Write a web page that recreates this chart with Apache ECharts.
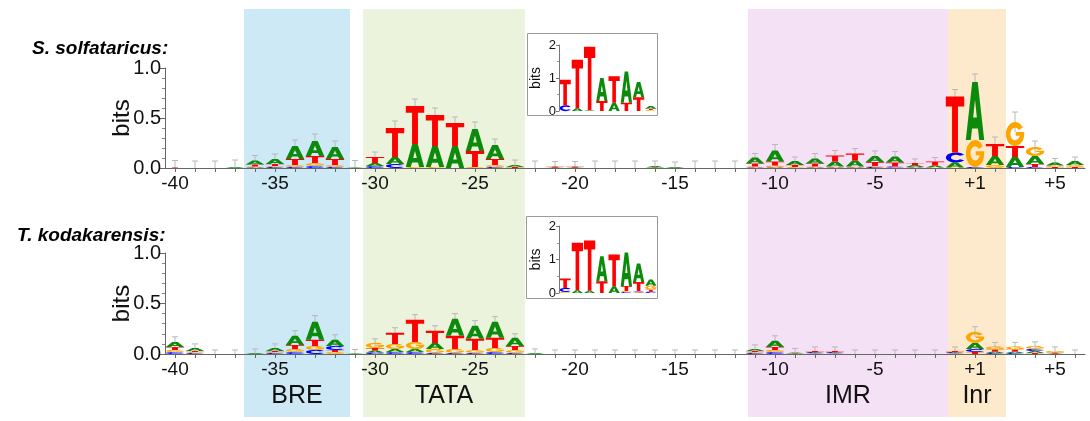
<!DOCTYPE html>
<html>
<head>
<meta charset="utf-8">
<script src="https://cdn.jsdelivr.net/npm/echarts@6/dist/echarts.min.js"></script>
<style>
  html, body { margin: 0; padding: 0; background: #fff; }
  #main { width: 1090px; height: 421px; }
</style>
</head>
<body>
<div id="main"></div>
<script>
// positions relative to the transcription start site (there is no 0)
var positions = ['-40','-39','-38','-37','-36','-35','-34','-33','-32','-31',
  '-30','-29','-28','-27','-26','-25','-24','-23','-22','-21',
  '-20','-19','-18','-17','-16','-15','-14','-13','-12','-11',
  '-10','-9','-8','-7','-6','-5','-4','-3','-2','-1',
  '+1','+2','+3','+4','+5','+6'];
var labeledTicks = ['-40','-35','-30','-25','-20','-15','-10','-5','+1','+5'];

// S. solfataricus, bits per nucleotide
var solA = [0,0,0,0.01,0.04,0.05,0.13,0.15,0.12,0.005,
  0.03,0.07,0.23,0.21,0.22,0.22,0.14,0.02,0,0.005,
  0.005,0,0,0,0.015,0.01,0,0,0,0.06,
  0.11,0.04,0.05,0.05,0.06,0.06,0.06,0.02,0.02,0.05,
  0.58,0.09,0.1,0.08,0.03,0.04];
var solC = [0,0,0,0,0.005,0.01,0.01,0.02,0.01,0,
  0.02,0.04,0,0,0,0,0.01,0,0,0,
  0,0,0,0,0,0,0,0,0,0.005,
  0.005,0,0.005,0.005,0.005,0.01,0.01,0.005,0,0.1,
  0.01,0,0.01,0.01,0,0];
var solG = [0,0,0,0,0.01,0.01,0.02,0.03,0.02,0,
  0,0,0.01,0.01,0,0.01,0.02,0,0,0,
  0,0,0,0,0,0,0,0,0,0.01,
  0.02,0.01,0.01,0.01,0.01,0.01,0.005,0.005,0.005,0.005,
  0.27,0.03,0.24,0.09,0.015,0.02];
var solT = [0.005,0,0,0,0.02,0.02,0.06,0.07,0.06,0,
  0.06,0.29,0.38,0.31,0.23,0.16,0.06,0.01,0,0.01,
  0.01,0,0,0,0.005,0,0,0,0,0.03,
  0.04,0.02,0.03,0.06,0.07,0.04,0.04,0.02,0.04,0.56,
  0,0.12,0.11,0.03,0.01,0.01];
var solErr = [0.07,0.07,0.07,0.07,0.05,0.05,0.06,0.07,0.06,0.07,
  0.05,0.07,0.07,0.07,0.06,0.07,0.06,0.05,0.07,0.05,
  0.05,0.07,0.07,0.07,0.05,0.05,0.07,0.07,0.07,0.04,
  0.06,0.04,0.05,0.05,0.05,0.05,0.05,0.04,0.04,0.07,
  0.08,0.07,0.1,0.06,0.04,0.04];

// T. kodakarensis, bits per nucleotide
var kodA = [0.05,0.03,0,0,0.01,0.03,0.09,0.18,0.06,0.005,
  0.02,0.03,0.03,0.06,0.17,0.13,0.16,0.08,0.01,0,
  0,0,0,0,0,0,0,0,0,0.02,
  0.06,0.01,0.005,0.005,0,0,0,0,0,0.005,
  0.06,0.015,0.015,0.02,0.005,0];
var kodC = [0.02,0.01,0,0,0,0.01,0.02,0.04,0.04,0,
  0.015,0.02,0.02,0.01,0.01,0.01,0.02,0.01,0,0,
  0,0,0,0,0,0,0,0,0,0.01,
  0.02,0,0.01,0.01,0,0,0,0,0,0.01,
  0.03,0.01,0.01,0.02,0,0];
var kodG = [0.02,0.01,0,0,0,0.01,0.03,0.04,0.02,0,
  0.05,0.05,0.07,0.04,0.04,0.03,0.04,0.03,0,0,
  0,0,0,0,0,0,0,0,0,0.01,
  0.02,0,0.005,0.005,0,0,0,0,0,0.005,
  0.11,0.03,0.03,0.03,0.015,0];
var kodT = [0.03,0.01,0,0,0,0.01,0.04,0.06,0.02,0,
  0.025,0.11,0.22,0.12,0.13,0.11,0.1,0.04,0,0,
  0,0,0,0,0,0,0,0,0,0.01,
  0.03,0.005,0.01,0.01,0,0,0,0,0,0.01,
  0.02,0.02,0.02,0.01,0.01,0];
var kodErr = [0.05,0.04,0.04,0.04,0.04,0.04,0.05,0.06,0.05,0.04,
  0.04,0.05,0.05,0.05,0.05,0.05,0.05,0.04,0.04,0.04,
  0.04,0.04,0.04,0.04,0.04,0.04,0.04,0.04,0.04,0.04,
  0.05,0.04,0.04,0.04,0.04,0.04,0.04,0.04,0.04,0.04,
  0.05,0.04,0.04,0.04,0.04,0.04];

// insets: 8-position TATA-box logos, 0-2 bits
var insetPositions = ['1','2','3','4','5','6','7','8'];
var insetSolA = [0,0.08,0.02,0.7,0.25,0.95,0.46,0.08];
var insetSolC = [0.17,0,0,0,0,0,0,0];
var insetSolG = [0,0,0,0,0,0,0,0.03];
var insetSolT = [0.78,1.47,1.93,0.3,0.8,0.25,0.42,0.04];
var insetKodA = [0,0.08,0.07,0.75,0.2,1.0,0.55,0.18];
var insetKodC = [0.12,0,0,0,0,0.03,0.03,0.04];
var insetKodG = [0.03,0,0,0,0,0.03,0.02,0.12];
var insetKodT = [0.28,1.42,1.5,0.35,0.95,0.15,0.28,0.06];

// promoter elements: [start, end, name] in position-band units
var bands = [[3.95, 9.25, 'BRE'], [9.9, 18.0, 'TATA'], [29.15, 39.15, 'IMR'], [39.15, 42.05, 'Inr']];
var bandColors = ['#cde9f6', '#ebf3dc', '#f4e1f5', '#fde9cc'];

var letterColors = ['#0b8a0b', '#0000ff', '#ffa500', '#ff0000'];
var glyphs = [
  'M0,100 L35,0 L65,0 L100,100 L73,100 L66,80 L34,80 L27,100 Z M40,61 L60,61 L50,30 Z',
  'M92,23 A50,50 0 1 0 92,77 L71,67 A26,26 0 1 1 71,33 Z',
  'M92,23 A50,50 0 1 0 100,50 L100,42 L54,42 L54,57 L76,57 A26,26 0 1 1 71,33 Z',
  'M0,0 L100,0 L100,18 L66,18 L66,100 L34,100 L34,18 L0,18 Z'
];
var FONT = "'Liberation Sans', Arial, sans-serif";

function stackItems(A, C, G, T) {
  var out = [];
  for (var i = 0; i < A.length; i++) {
    var ls = [[0, A[i]], [1, C[i]], [2, G[i]], [3, T[i]]]
      .filter(function (d) { return d[1] > 0; })
      .sort(function (a, b) { return a[1] - b[1]; });
    var y = 0;
    ls.forEach(function (d) { out.push([i, y, y + d[1], d[0]]); y += d[1]; });
  }
  return out;
}
function errItems(A, C, G, T, E) {
  return A.map(function (a, i) { return [i, a + C[i] + G[i] + T[i], E[i]]; });
}

function renderLetter(params, api) {
  var i = api.value(0), k = api.value(3);
  var p0 = api.coord([i, api.value(1)]);
  var p1 = api.coord([i, api.value(2)]);
  var w = api.size([1, 0])[0] * 0.92;
  var h = p0[1] - p1[1];
  if (h < 0.4) return;
  return {
    type: 'path',
    shape: { pathData: glyphs[k], x: p0[0] - w / 2, y: p1[1], width: w, height: h, layout: 'cover' },
    style: { fill: letterColors[k] }
  };
}
function renderErr(params, api) {
  var i = api.value(0), top = api.value(1), e = api.value(2);
  var hi = api.coord([i, top + e]);
  var lo = api.coord([i, Math.max(0, top - e)]);
  var st = { stroke: '#b8b8b8', lineWidth: 1 };
  return {
    type: 'group',
    children: [
      { type: 'line', shape: { x1: hi[0], y1: hi[1], x2: lo[0], y2: lo[1] }, style: st },
      { type: 'line', shape: { x1: hi[0] - 3, y1: hi[1], x2: hi[0] + 3, y2: hi[1] }, style: st }
    ]
  };
}
function renderBand(params, api) {
  var a = api.coord([api.value(0), 1]);
  var b = api.coord([api.value(1), 0]);
  return {
    type: 'group',
    children: [
      { type: 'rect', shape: { x: a[0], y: a[1], width: b[0] - a[0], height: b[1] - a[1] },
        style: { fill: bandColors[params.dataIndex] } },
      { type: 'text', x: (a[0] + b[0]) / 2, y: b[1] - 8,
        style: { text: bands[params.dataIndex][2], fill: '#111', font: '25px ' + FONT,
                 align: 'center', verticalAlign: 'bottom' } }
    ]
  };
}

function mainX(gi) {
  return {
    gridIndex: gi, type: 'category', data: positions, boundaryGap: true, z: 3,
    axisLine: { lineStyle: { color: '#666' } },
    axisTick: { show: true, interval: 0, alignWithLabel: true, length: 4, lineStyle: { color: '#666' } },
    axisLabel: {
      interval: function (idx, v) { return labeledTicks.indexOf(v) >= 0; },
      fontSize: 19, fontFamily: FONT, color: '#111', margin: 6
    }
  };
}
function mainY(gi) {
  return {
    gridIndex: gi, type: 'value', min: 0, max: 1, interval: 0.5, z: 3,
    name: 'bits', nameLocation: 'middle', nameRotate: 90, nameGap: 31, nameMoveOverlap: false,
    nameTextStyle: { fontSize: 24, fontFamily: FONT, color: '#111' },
    axisLine: { show: true, lineStyle: { color: '#666' } },
    axisTick: { show: true, length: 5, lineStyle: { color: '#666' } },
    minorTick: { show: true, splitNumber: 5, length: 3, lineStyle: { color: '#888' } },
    splitLine: { show: false },
    axisLabel: { fontSize: 20, fontFamily: FONT, color: '#111', margin: 4,
                 formatter: function (v) { return v.toFixed(1); } }
  };
}
function insetX(gi) {
  return { gridIndex: gi, type: 'category', data: insetPositions, show: false };
}
function insetY(gi) {
  return {
    gridIndex: gi, type: 'value', min: 0, max: 2, interval: 1, z: 3,
    name: 'bits', nameLocation: 'middle', nameRotate: 90, nameGap: 16,
    nameTextStyle: { fontSize: 14, fontFamily: FONT, color: '#111' },
    axisLine: { show: true, lineStyle: { color: '#777' } },
    axisTick: { show: true, length: 3, lineStyle: { color: '#777' } },
    minorTick: { show: true, splitNumber: 2, length: 2, lineStyle: { color: '#999' } },
    splitLine: { show: false },
    axisLabel: { fontSize: 13, fontFamily: FONT, color: '#111', margin: 3 }
  };
}

var myChart = echarts.init(document.getElementById('main'), null, { renderer: 'canvas' });
var option = {
  animation: false,
  title: [
    { text: 'S. solfataricus:', left: 27, top: 34,
      textStyle: { fontSize: 19, fontStyle: 'italic', fontWeight: 'bold', fontFamily: FONT, color: '#000' } },
    { text: 'T. kodakarensis:', left: 12, top: 221,
      textStyle: { fontSize: 19, fontStyle: 'italic', fontWeight: 'bold', fontFamily: FONT, color: '#000' } }
  ],
  grid: [
    { left: 165, width: 920, top: 9, height: 408 },
    { left: 165, width: 920, top: 68, height: 100 },
    { left: 165, width: 920, top: 253, height: 101 },
    { left: 559, width: 98, top: 45, height: 66 },
    { left: 559, width: 98, top: 226, height: 67 }
  ],
  xAxis: [
    { gridIndex: 0, type: 'value', min: 0, max: 46, show: false },
    mainX(1), mainX(2), insetX(3), insetX(4)
  ],
  yAxis: [
    { gridIndex: 0, type: 'value', min: 0, max: 1, show: false },
    mainY(1), mainY(2), insetY(3), insetY(4)
  ],
  graphic: [
    { type: 'rect', z: 1, shape: { x: 527.5, y: 33.5, width: 130, height: 82 },
      style: { fill: '#fff', stroke: '#9a9a9a', lineWidth: 1 } },
    { type: 'rect', z: 1, shape: { x: 526.5, y: 216.5, width: 131, height: 82 },
      style: { fill: '#fff', stroke: '#9a9a9a', lineWidth: 1 } }
  ],
  series: [
    { type: 'custom', xAxisIndex: 0, yAxisIndex: 0, z: 0, silent: true,
      renderItem: renderBand, encode: { x: [0, 1] }, data: bands.map(function (b) { return [b[0], b[1]]; }) },
    { type: 'custom', xAxisIndex: 1, yAxisIndex: 1, z: 2, renderItem: renderErr,
      encode: { x: 0, y: 1 }, data: errItems(solA, solC, solG, solT, solErr) },
    { type: 'custom', xAxisIndex: 1, yAxisIndex: 1, z: 3, renderItem: renderLetter,
      encode: { x: 0, y: 2 }, data: stackItems(solA, solC, solG, solT) },
    { type: 'custom', xAxisIndex: 2, yAxisIndex: 2, z: 2, renderItem: renderErr,
      encode: { x: 0, y: 1 }, data: errItems(kodA, kodC, kodG, kodT, kodErr) },
    { type: 'custom', xAxisIndex: 2, yAxisIndex: 2, z: 3, renderItem: renderLetter,
      encode: { x: 0, y: 2 }, data: stackItems(kodA, kodC, kodG, kodT) },
    { type: 'custom', xAxisIndex: 3, yAxisIndex: 3, z: 3, renderItem: renderLetter,
      encode: { x: 0, y: 2 }, data: stackItems(insetSolA, insetSolC, insetSolG, insetSolT) },
    { type: 'custom', xAxisIndex: 4, yAxisIndex: 4, z: 3, renderItem: renderLetter,
      encode: { x: 0, y: 2 }, data: stackItems(insetKodA, insetKodC, insetKodG, insetKodT) }
  ]
};
myChart.setOption(option);
</script>
</body>
</html>
